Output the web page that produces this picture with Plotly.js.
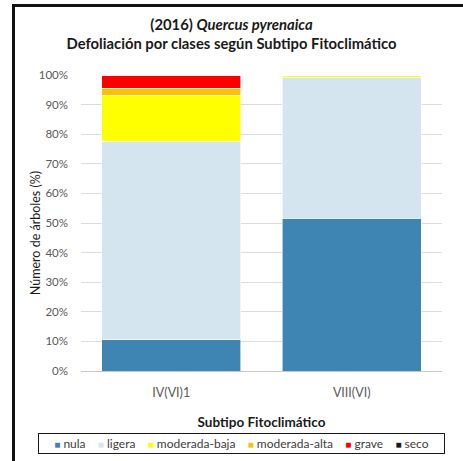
<!DOCTYPE html>
<html>
<head>
<meta charset="utf-8">
<script src="https://cdn.plot.ly/plotly-3.0.1.min.js"></script>
<style>
  html, body { margin: 0; padding: 0; background: #fff; }
  #wrap { position: relative; width: 463px; height: 461px; overflow: hidden; }
  #chart { position: absolute; left: 0; top: 0; width: 463px; height: 461px; }
  #frame { position: absolute; left: 12px; top: 4px; width: 470px; height: 470px;
           border-left: 3px solid #111; border-top: 3px solid #111; pointer-events: none; }
</style>
</head>
<body>
<div id="wrap">
  <div id="chart"></div>
  <div id="frame"></div>
</div>
<script>
// Categories (Subtipo Fitoclimático)
const categories = ['IV(VI)1', 'VIII(VI)'];
// Defoliation classes
const classNames = ['nula', 'ligera', 'moderada-baja', 'moderada-alta', 'grave', 'seco'];
// Values (% of trees) per class, one value per category
const nula         = [10.5, 51.6];
const ligera       = [67.2, 47.7];
const moderadaBaja = [15.5, 0.7];
const moderadaAlta = [2.3, 0.0];
const grave        = [4.5, 0.0];
const seco         = [0.0, 0.0];
const yTickVals    = [0, 10, 20, 30, 40, 50, 60, 70, 80, 90, 100];

const seriesValues = [nula, ligera, moderadaBaja, moderadaAlta, grave, seco];
const colors = ['#3E85B4', '#D5E5F0', '#FFFF00', '#FFC000', '#FF0000', '#1A1A1A'];

const FONT = 'Lato, "Open Sans", sans-serif';

const traces = classNames.map((name, i) => ({
  type: 'bar',
  name: name,
  x: categories,
  y: seriesValues[i],
  marker: { color: colors[i], line: { color: '#ffffff', width: 0.6 } },
  hoverinfo: 'x+y+name'
}));

// Legend built as one bordered annotation from class names and colours
const legendText = classNames.map((n, i) =>
  '<span style="color:' + colors[i] + ';font-size:10px">■</span> ' + n
).join('&nbsp;&nbsp;&nbsp;&nbsp;');

const layout = {
  width: 463,
  height: 461,
  margin: { l: 81, r: 21, t: 75, b: 90 },
  paper_bgcolor: '#ffffff',
  plot_bgcolor: '#ffffff',
  barmode: 'stack',
  bargap: 0.23,
  showlegend: false,
  font: { family: FONT, color: '#595959', size: 11 },
  title: {
    text: '(2016) <i>Quercus pyrenaica</i><br>Defoliación por clases según Subtipo Fitoclimático',
    font: { family: FONT, size: 14.8, color: '#1a1a1a', weight: 'bold' },
    x: 0.5, xanchor: 'center',
    y: 0.935, yanchor: 'middle'
  },
  xaxis: {
    type: 'category',
    showgrid: false,
    showline: true,
    linecolor: '#c8c8c8',
    linewidth: 1,
    ticks: '',
    tickfont: { family: FONT, size: 12.5, color: '#595959' },
    ticklabelstandoff: 10,
    title: {
      text: 'Subtipo Fitoclimático',
      font: { family: FONT, size: 13.5, color: '#1a1a1a', weight: 'bold' },
      standoff: 18
    }
  },
  yaxis: {
    range: [0, 100],
    tickvals: yTickVals,
    ticktext: yTickVals.map(v => v + '%'),
    showgrid: true,
    gridcolor: '#dcdcdc',
    gridwidth: 1,
    zeroline: false,
    showline: false,
    ticks: '',
    ticklabelstandoff: 12,
    tickfont: { family: FONT, size: 11.5, color: '#595959' }
  },
  annotations: [{
    text: 'Número de árboles (%)',
    xref: 'paper', yref: 'paper',
    x: -0.127, y: 0.466,
    xanchor: 'center', yanchor: 'middle',
    textangle: -90,
    showarrow: false,
    font: { family: FONT, size: 12.5, color: '#1a1a1a' }
  }, {
    text: legendText,
    xref: 'paper', yref: 'paper',
    x: 0.4446, y: -0.245,
    xanchor: 'center', yanchor: 'middle',
    showarrow: false,
    width: 401,
    align: 'center',
    bordercolor: '#1a1a1a',
    borderwidth: 1,
    borderpad: 2,
    font: { family: FONT, size: 12, color: '#404040' }
  }]
};

Plotly.newPlot('chart', traces, layout, { displayModeBar: false, staticPlot: true });
</script>
</body>
</html>
